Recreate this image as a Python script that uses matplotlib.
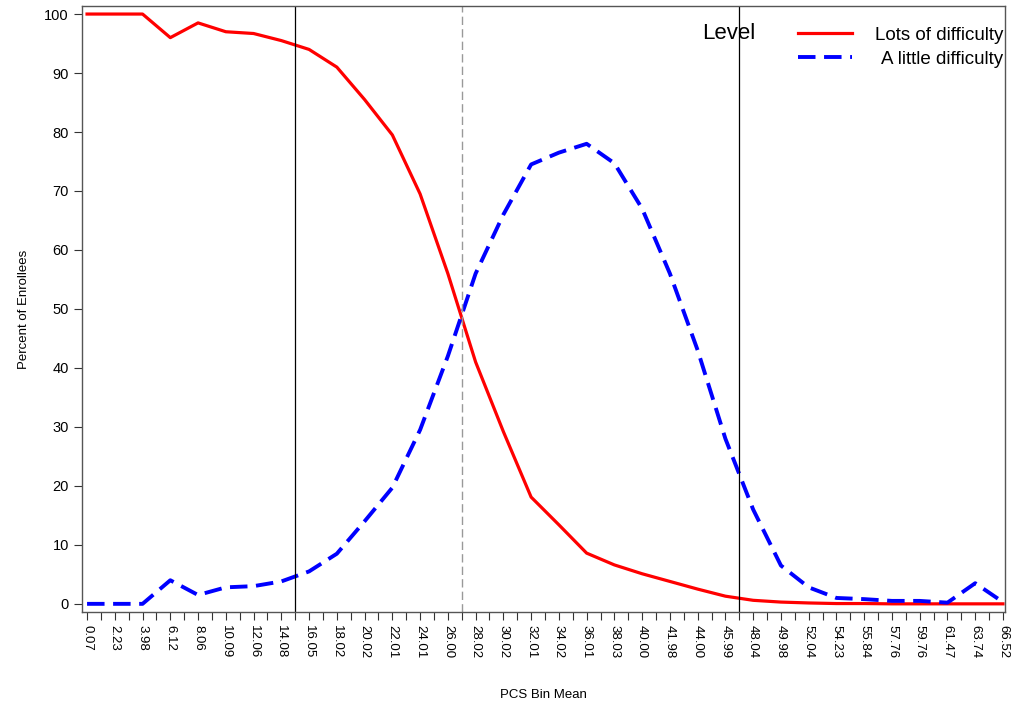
import matplotlib
matplotlib.use('Agg')
import matplotlib.pyplot as plt
from matplotlib.ticker import MultipleLocator

plt.rcParams['font.family'] = ['Liberation Sans', 'DejaVu Sans']

# PCS bin means (x categories)
bins = ['0.07', '2.23', '3.98', '6.12', '8.06', '10.09', '12.06', '14.08', '16.05', '18.02',
        '20.02', '22.01', '24.01', '26.00', '28.02', '30.02', '32.01', '34.02', '36.01', '38.03',
        '40.00', '41.98', '44.00', '45.99', '48.04', '49.98', '52.04', '54.23', '55.84', '57.76',
        '59.76', '61.47', '63.74', '66.52']

# percent of enrollees per level
lots = [100, 100, 100, 96, 98.5, 97, 96.7, 95.5, 94, 91,
        85.5, 79.5, 69.5, 56, 41, 29.2, 18.1, 13.4, 8.6, 6.6,
        5.1, 3.8, 2.5, 1.3, 0.6, 0.3, 0.15, 0.05, 0.05, 0.0,
        0.0, 0.0, 0.0, 0.0]
little = [0, 0, 0, 4, 1.5, 2.8, 3, 3.8, 5.5, 8.5,
          14, 19.7, 29.5, 42, 56, 66, 74.5, 76.5, 78, 74.7,
          67, 56, 43, 28, 16, 6.5, 2.8, 1, 0.8, 0.5,
          0.5, 0.2, 3.5, 0.3]

# reference lines (between bins)
ref_solid = [7.5, 23.5]
ref_dash = 13.5

x = list(range(len(bins)))

fig = plt.figure(figsize=(10.13, 7.09), dpi=100)
ax = fig.add_axes([0.081, 0.137, 0.911, 0.8545])

red_style = dict(color='red', lw=2.3)
blue_style = dict(color='blue', lw=2.8, dashes=(4.5, 2.2))

ax.plot(x, lots, **red_style)
ax.plot(x, little, **blue_style)

for v in ref_solid:
    ax.axvline(v, color='black', lw=0.9)
ax.axvline(ref_dash, color='#999999', lw=1, dashes=(6, 3))

ax.set_xlim(-0.18, len(bins) - 1 + 0.07)
ax.set_ylim(-1.36, 101.36)
ax.set_xticks(x)
ax.set_xticklabels(bins, rotation=270, fontsize=9.5)
ax.xaxis.set_minor_locator(MultipleLocator(0.5))
ax.tick_params(axis='x', which='both', length=6, width=0.8, colors='#333333', labelcolor='black')
ax.set_yticks(range(0, 101, 10))
ax.tick_params(axis='y', length=6, width=0.8, labelsize=10.5, colors='#333333', labelcolor='black')
for s in ax.spines.values():
    s.set_color('#555555')
    s.set_linewidth(1)

ax.set_xlabel('PCS Bin Mean', fontsize=9.5, labelpad=22)
ax.set_ylabel('Percent of Enrollees', fontsize=9.5, labelpad=10)

# legend, SAS style: title on the left, entries right aligned
ax.text(0.672, 0.955, 'Level', transform=ax.transAxes, fontsize=16, va='center', ha='left')
ax.plot([0.776, 0.834], [0.955, 0.955], transform=ax.transAxes, clip_on=False, **red_style)
ax.plot([0.776, 0.834], [0.916, 0.916], transform=ax.transAxes, clip_on=False, **blue_style)
ax.text(0.998, 0.952, 'Lots of difficulty', transform=ax.transAxes, fontsize=13.5,
        va='center', ha='right')
ax.text(0.998, 0.9125, 'A little difficulty', transform=ax.transAxes, fontsize=13.5,
        va='center', ha='right')

fig.savefig('out.png', dpi=100)
